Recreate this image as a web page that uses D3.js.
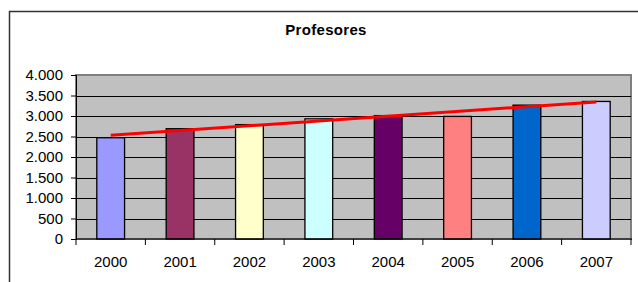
<!DOCTYPE html>
<html>
<head>
<meta charset="utf-8">
<script src="https://cdn.jsdelivr.net/npm/d3@7"></script>
<style>
  body { margin: 0; background: #fff; }
  text { font-family: "Liberation Sans", Arial, sans-serif; fill: #000; }
</style>
</head>
<body>
<svg id="chart" width="638" height="282"></svg>
<script>
"use strict";
// data
var years = ["2000", "2001", "2002", "2003", "2004", "2005", "2006", "2007"];
var profesores = [2470, 2690, 2790, 2930, 3010, 2990, 3265, 3355];
var barColors = ["#9999ff", "#993366", "#ffffcc", "#ccffff", "#660066", "#ff8080", "#0066cc", "#ccccff"];
var yTicks = [0, 500, 1000, 1500, 2000, 2500, 3000, 3500, 4000];
var title = "Profesores";

var svg = d3.select("#chart");
var plotL = 76, plotR = 631, plotT = 75, plotB = 239;

// outer frame (runs off the picture at right and bottom)
svg.append("rect")
    .attr("x", 9.5).attr("y", 11.5)
    .attr("width", 700).attr("height", 400)
    .style("fill", "none").style("stroke", "#333").style("stroke-width", 1.5);

svg.append("text")
    .attr("x", 326).attr("y", 35)
    .attr("text-anchor", "middle")
    .style("font-size", "15px").style("font-weight", "bold")
    .style("letter-spacing", "0.3px")
    .text(title);

var x = d3.scaleBand().domain(years).range([plotL, plotR])
    .paddingInner(0.6).paddingOuter(0.3);
var y = d3.scaleLinear().domain([0, 4000]).range([plotB, plotT]);

// plot area
svg.append("rect")
    .attr("x", plotL).attr("y", plotT)
    .attr("width", plotR - plotL).attr("height", plotB - plotT)
    .style("fill", "#c0c0c0").style("stroke", "#808080").style("stroke-width", 2);

// gridlines
svg.append("g").selectAll("line")
    .data(yTicks.filter(function (d) { return d > 0 && d < 4000; }))
    .enter().append("line")
    .attr("x1", plotL).attr("x2", plotR)
    .attr("y1", function (d) { return Math.round(y(d)) + 0.5; })
    .attr("y2", function (d) { return Math.round(y(d)) + 0.5; })
    .style("stroke", "#000").style("stroke-width", 1);

// bars
svg.append("g").selectAll("rect")
    .data(profesores)
    .enter().append("rect")
    .attr("x", function (d, i) { return x(years[i]); })
    .attr("y", function (d) { return y(d); })
    .attr("width", x.bandwidth())
    .attr("height", function (d) { return plotB - y(d); })
    .style("fill", function (d, i) { return barColors[i]; })
    .style("stroke", "#000").style("stroke-width", 1.3);

// linear trend line
var n = profesores.length;
var mx = (n - 1) / 2, my = d3.mean(profesores);
var sxy = d3.sum(profesores, function (d, i) { return (i - mx) * (d - my); });
var sxx = d3.sum(profesores, function (d, i) { return (i - mx) * (i - mx); });
var slope = sxy / sxx, icpt = my - slope * mx;
svg.append("line")
    .attr("x1", x(years[0]) + x.bandwidth() / 2)
    .attr("y1", y(icpt))
    .attr("x2", x(years[n - 1]) + x.bandwidth() / 2)
    .attr("y2", y(icpt + slope * (n - 1)))
    .style("stroke", "#ff0000").style("stroke-width", 3);

// y axis
var yAxis = svg.append("g")
    .attr("transform", "translate(" + plotL + ",0)")
    .call(d3.axisLeft(y).tickValues(yTicks).tickSize(5).tickPadding(8)
        .tickFormat(function (d) { return d3.format(",")(d).replace(/,/g, "."); }));
yAxis.select(".domain").style("stroke", "#000");
yAxis.selectAll("line").style("stroke", "#000");
yAxis.selectAll("text").style("font-size", "15px")
    .style("font-family", "'Liberation Sans', Arial, sans-serif");

// x axis with ticks at category boundaries
var xAxis = svg.append("g")
    .attr("transform", "translate(0," + plotB + ")");
xAxis.append("line")
    .attr("x1", plotL).attr("x2", plotR + 1)
    .style("stroke", "#000");
xAxis.selectAll(".tk")
    .data(d3.range(n + 1))
    .enter().append("line")
    .attr("class", "tk")
    .attr("x1", function (i) { return plotL + i * x.step(); })
    .attr("x2", function (i) { return plotL + i * x.step(); })
    .attr("y1", 0).attr("y2", 6)
    .style("stroke", "#000");
xAxis.selectAll("text")
    .data(years)
    .enter().append("text")
    .attr("x", function (d) { return x(d) + x.bandwidth() / 2; })
    .attr("y", 28)
    .attr("text-anchor", "middle")
    .style("font-size", "15px")
    .text(function (d) { return d; });
</script>
</body>
</html>
